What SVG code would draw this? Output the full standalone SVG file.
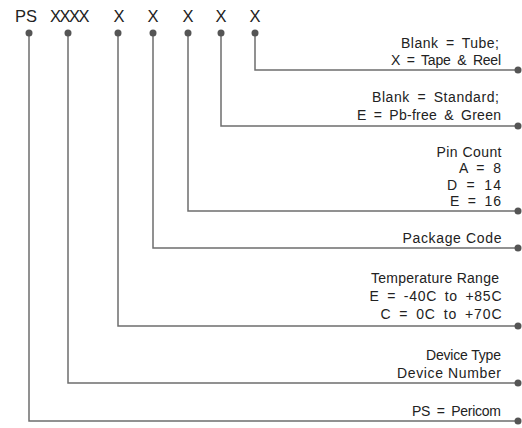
<svg xmlns="http://www.w3.org/2000/svg" width="522" height="428" viewBox="0 0 522 428">
<style>
.t{font-family:"Liberation Sans",Arial,sans-serif;font-size:14px;fill:#222;text-anchor:end}
.e{word-spacing:3px}
.h{font-family:"Liberation Sans",Arial,sans-serif;font-size:16.5px;fill:#222;text-anchor:middle}
.c{fill:none;stroke:#6e6e6e;stroke-width:1.5}
.d{fill:#555}
</style>
<rect width="522" height="428" fill="#fff"/>
<g id="header">
<text class="h" x="26" y="22">PS</text>
<text class="h" x="69" y="22" letter-spacing="-1.5">XXXX</text>
<text class="h" x="119" y="22">X</text>
<text class="h" x="153" y="22">X</text>
<text class="h" x="188" y="22">X</text>
<text class="h" x="221" y="22">X</text>
<text class="h" x="255" y="22">X</text>
</g>
<g id="connectors">
<path class="c" d="M255 33V70H518"/>
<path class="c" d="M221 33V126H518"/>
<path class="c" d="M188 33V211H518"/>
<path class="c" d="M153 33V248H518"/>
<path class="c" d="M118 33V326H518"/>
<path class="c" d="M68 33V383H518"/>
<path class="c" d="M29 33V421H518"/>
<g class="d">
<circle cx="255" cy="33" r="3.5"/><circle cx="221" cy="33" r="3.5"/><circle cx="188" cy="33" r="3.5"/><circle cx="153" cy="33" r="3.5"/><circle cx="118" cy="33" r="3.5"/><circle cx="68" cy="33" r="3.5"/><circle cx="29" cy="33" r="3.5"/>
<circle cx="518" cy="70" r="3.5"/><circle cx="518" cy="126" r="3.5"/><circle cx="518" cy="211" r="3.5"/><circle cx="518" cy="248" r="3.5"/><circle cx="518" cy="326" r="3.5"/><circle cx="518" cy="383" r="3.5"/><circle cx="518" cy="421" r="3.5"/>
</g>
</g>
<g id="packing">
<text class="t e" x="499" y="48" textLength="98" lengthAdjust="spacing">Blank = Tube;</text>
<text class="t e" x="501" y="65" textLength="110" lengthAdjust="spacing">X = Tape &amp; Reel</text>
</g>
<g id="material">
<text class="t e" x="499" y="102" textLength="127" lengthAdjust="spacing">Blank = Standard;</text>
<text class="t e" x="501" y="120" textLength="144" lengthAdjust="spacing">E = Pb-free &amp; Green</text>
</g>
<g id="pincount">
<text class="t" x="501.5" y="157" textLength="65" lengthAdjust="spacing">Pin Count</text>
<text class="t e" x="501" y="173" textLength="42" lengthAdjust="spacing">A = 8</text>
<text class="t e" x="501" y="190" textLength="54" lengthAdjust="spacing">D = 14</text>
<text class="t e" x="501" y="206" textLength="51" lengthAdjust="spacing">E = 16</text>
</g>
<g id="package">
<text class="t" x="501.5" y="243" textLength="99" lengthAdjust="spacing">Package Code</text>
</g>
<g id="temperature">
<text class="t" x="499" y="283" textLength="128" lengthAdjust="spacing">Temperature Range</text>
<text class="t e" x="501.5" y="301" textLength="132" lengthAdjust="spacing">E = -40C to +85C</text>
<text class="t e" x="501.5" y="319" textLength="121" lengthAdjust="spacing">C = 0C to +70C</text>
</g>
<g id="device">
<text class="t" x="501" y="360" textLength="75" lengthAdjust="spacing">Device Type</text>
<text class="t" x="501" y="378" textLength="104" lengthAdjust="spacing">Device Number</text>
</g>
<g id="company">
<text class="t e" x="501" y="416" textLength="89" lengthAdjust="spacing">PS = Pericom</text>
</g>
</svg>
